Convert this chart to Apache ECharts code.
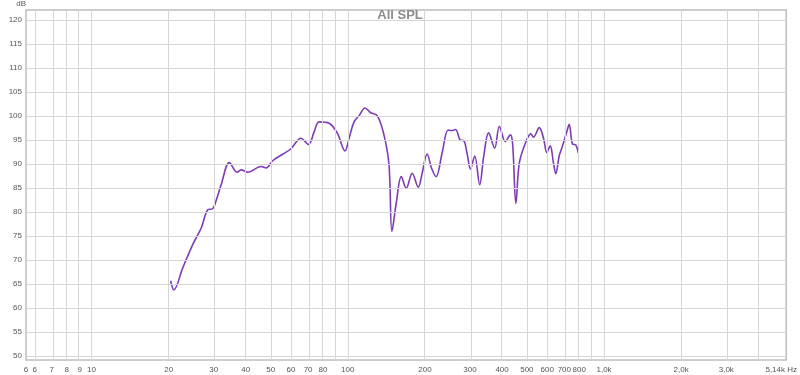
<!DOCTYPE html>
<html><head><meta charset="utf-8">
<script src="https://cdn.jsdelivr.net/npm/echarts@6/dist/echarts.min.js"></script>
<style>html,body{margin:0;padding:0;background:#fff}#c{width:800px;height:375px}</style>
</head><body><div id="c"></div>
<script>
// ---- data ----
const title = 'All SPL';
const freqHz = [20.35, 20.96, 22.72, 24.85, 26.8, 28.43, 29.7, 30.6, 32.05, 34.5, 37.0, 38.35, 40.7, 45.9, 48.0, 50.9, 55.7, 60.0, 65.6, 70.3, 73.9, 77.3, 84.6, 91.1, 97.6, 101.2, 105.8, 110.7, 116.8, 122.9, 130.4, 138.4, 144.8, 148.7, 154.6, 161.7, 169.1, 178.4, 188.3, 195.1, 204, 212.3, 221.2, 233.4, 246.3, 254, 263.2, 275.3, 283.5, 292, 301.1, 312.8, 327.2, 339.2, 354.6, 374.3, 390.4, 411.9, 430.8, 439.8, 452.9, 467, 492.7, 518.1, 530.8, 558.5, 580.5, 597.9, 616.6, 634.9, 648.2, 668.3, 684, 715.4, 731, 753, 775.5, 794.3];
const splDb = [65.7, 63.8, 68.45, 73.3, 76.7, 80.5, 80.7, 82.3, 85.7, 90.3, 88.3, 88.8, 88.3, 89.5, 89.2, 90.7, 92.05, 93.2, 95.4, 94.1, 96.7, 98.8, 98.5, 96.4, 92.75, 95.4, 98.8, 100.1, 101.7, 100.7, 100.1, 96.1, 89.9, 76.0, 81.9, 87.4, 85.0, 88.1, 85.2, 88.1, 92.1, 89.15, 87.4, 92.3, 97.1, 97.0, 97.2, 95.0, 94.9, 92.3, 89.0, 91.7, 85.7, 91.6, 96.5, 93.3, 97.9, 94.7, 96.1, 94.3, 81.8, 90.2, 94.3, 96.3, 95.6, 97.6, 95.4, 92.4, 93.8, 90.2, 88.0, 91.7, 93.3, 96.7, 98.3, 94.2, 94.0, 92.3];
const xMinHz = 5.55, xMaxHz = 5140;
const yMinDb = 49.2, yMaxDb = 122.1;
const xLabelHz = [5.55, 6, 7, 8, 9, 10, 20, 30, 40, 50, 60, 70, 80, 100, 200, 300, 400, 500, 600, 700, 800, 1000, 2000, 3000, 4000, 5140];
const xLabelText = ['6', '6', '7', '8', '9', '10', '20', '30', '40', '50', '60', '70', '80', '100', '200', '300', '400', '500', '600', '700', '800', '1,0k', '2,0k', '3,0k', '4,0k', '5,14k Hz'];
const xGridHz = [6, 7, 8, 9, 10, 20, 30, 40, 50, 60, 70, 80, 90, 100, 200, 300, 400, 500, 600, 700, 800, 900, 1000, 2000, 3000, 4000];
const yTicks = [50, 55, 60, 65, 70, 75, 80, 85, 90, 95, 100, 105, 110, 115, 120];

const lg = v => Math.log10(v);
const labelMap = {};
xLabelHz.forEach((f, i) => { labelMap[lg(f).toFixed(5)] = xLabelText[i]; });

const chart = echarts.init(document.getElementById('c'));
const gridCol = '#d6d6d6';
chart.setOption({
  animation: false,
  backgroundColor: '#fff',
  title: { text: title, left: 'center', top: 4, textStyle: { fontFamily: 'Liberation Sans', fontSize: 13, fontWeight: 'bold', color: '#8c8c8c' } },
  grid: { left: 26, right: 12, top: 8, bottom: 15, show: true, borderColor: '#bdbdbd', borderWidth: 1.5, backgroundColor: 'transparent' },
  xAxis: {
    type: 'value', min: lg(xMinHz), max: lg(xMaxHz),
    axisLine: { show: false }, axisTick: { show: false }, splitLine: { show: false },
    axisLabel: {
      customValues: xLabelHz.map(lg), margin: 6, fontFamily: 'Liberation Sans', fontSize: 8, color: '#555',
      showMinLabel: true, showMaxLabel: true, hideOverlap: false,
      formatter: v => { const t = labelMap[v.toFixed(5)] || ''; return t.indexOf('Hz') >= 0 ? '{r|' + t + '}' : t; },
      rich: { r: { fontFamily: 'Liberation Sans', fontSize: 8, color: '#555', padding: [0, 10, 0, 0] } }
    }
  },
  yAxis: {
    type: 'value', min: yMinDb, max: yMaxDb, name: 'dB', nameLocation: 'end', nameGap: 2,
    nameTextStyle: { fontFamily: 'Liberation Sans', fontSize: 8, color: '#555', align: 'right', padding: [0, 0, 0, 0] },
    axisLine: { show: false }, axisTick: { show: false }, splitLine: { show: false },
    axisLabel: { customValues: yTicks, margin: 4, fontFamily: 'Liberation Sans', fontSize: 8, color: '#555' }
  },
  series: [
    {
      type: 'line', data: [], silent: true,
      markLine: {
        silent: true, symbol: 'none', animation: false, label: { show: false },
        lineStyle: { color: gridCol, width: 1, type: 'solid' },
        data: xGridHz.map(f => ({ xAxis: lg(f) })).concat(yTicks.map(v => ({ yAxis: v })))
      }
    },
    {
      type: 'line', data: freqHz.map((f, i) => [lg(f), splDb[i]]),
      smooth: 0.35, showSymbol: false, symbol: 'none',
      lineStyle: { color: '#7d3cb4', width: 1.6 }
    }
  ]
});
</script>
</body></html>
